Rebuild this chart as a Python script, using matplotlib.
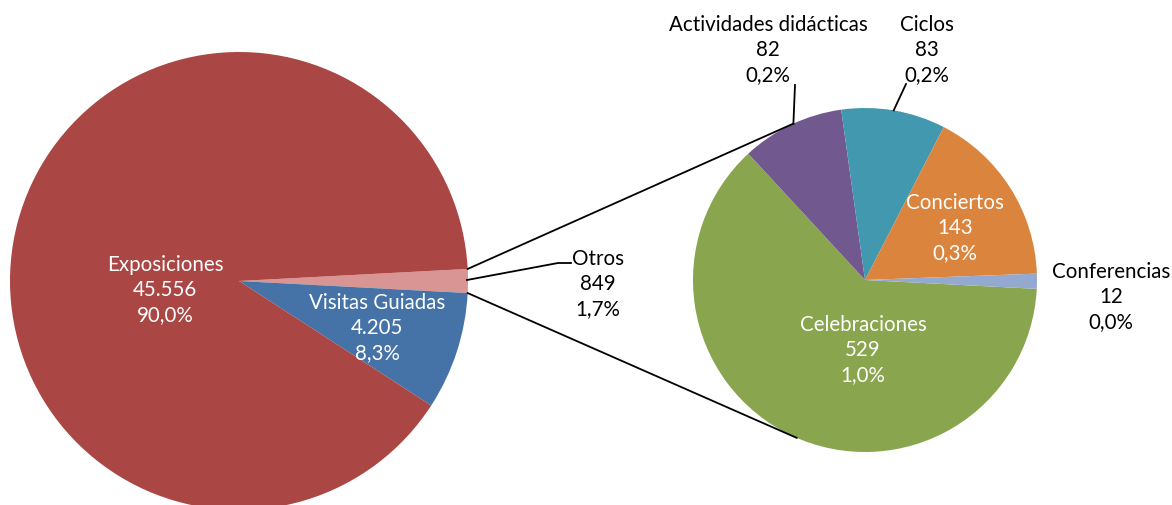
import numpy as np
import matplotlib
matplotlib.use("Agg")
import matplotlib.pyplot as plt

plt.rcParams['font.family'] = ['Lato', 'DejaVu Sans']

# main pie
main_labels = ["Otros", "Visitas Guiadas", "Exposiciones"]
main_values = [849, 4205, 45556]
main_colors = ["#D99594", "#4572A7", "#AA4643"]

# second pie (breakdown of "Otros")
sub_labels = ["Celebraciones", "Actividades didácticas", "Ciclos", "Conciertos", "Conferencias"]
sub_values = [529, 82, 83, 143, 12]
sub_colors = ["#89A54E", "#71588F", "#4198AF", "#DB843D", "#93A9CF"]

total = sum(main_values)


def fmt_num(v):
    return "{:,}".format(v).replace(",", ".")


def fmt_pct(v):
    return "{:.1f}%".format(100.0 * v / total).replace(".", ",")


def lbl(name, v):
    return name + "\n" + fmt_num(v) + "\n" + fmt_pct(v)


W, H = 1172, 505
fig = plt.figure(figsize=(W / 100, H / 100), dpi=100)
ax = fig.add_axes([0, 0, 1, 1])

c1, r1 = (239, H - 281), 229
c2, r2 = (865, H - 280), 172

half = 360.0 * main_values[0] / total / 2
ax.pie(main_values, colors=main_colors, startangle=half, counterclock=False,
       center=c1, radius=r1, wedgeprops=dict(linewidth=0))
ax.pie(sub_values, colors=sub_colors, startangle=-2.96, counterclock=False,
       center=c2, radius=r2, wedgeprops=dict(linewidth=0))

ax.set_xlim(0, W)
ax.set_ylim(0, H)
ax.axis("off")

# connector lines between the pies
def pt(c, r, ang):
    a = np.radians(ang)
    return c[0] + r * np.cos(a), c[1] + r * np.sin(a)

for a1, a2 in [(half, 114.6), (-half, -113.4)]:
    p1 = pt(c1, r1, a1)
    p2 = pt(c2, r2, a2)
    ax.plot([p1[0], p2[0]], [p1[1], p2[1]], color="black", lw=1.3)

# leader lines
fs = 14.8
ax.plot([467, 558, 571], [H - 280, H - 263, H - 263], color="black", lw=1.3)
p = pt(c2, r2, 114.6)
ax.plot([p[0], 795], [p[1], H - 85], color="black", lw=1.3)
p = pt(c2, r2, 98.0 - 17.6)
ax.plot([p[0], 906], [p[1], H - 84], color="black", lw=1.3)

tk = dict(ha="center", va="center", fontsize=fs, linespacing=1.33)
ax.text(165, H - 290, lbl("Exposiciones", main_values[2]), color="white", **tk)
ax.text(377, H - 328, lbl("Visitas Guiadas", main_values[1]), color="white", **tk)
ax.text(598, H - 284, lbl("Otros", main_values[0]), color="black", **tk)
ax.text(863, H - 350, lbl("Celebraciones", sub_values[0]), color="white", **tk)
ax.text(768, H - 50, lbl("Actividades didácticas", sub_values[1]), color="black", **tk)
ax.text(927, H - 50, lbl("Ciclos", sub_values[2]), color="black", **tk)
ax.text(955, H - 228, lbl("Conciertos", sub_values[3]), color="white", **tk)
ax.text(1111, H - 297, lbl("Conferencias", sub_values[4]), color="black", **tk)

fig.savefig("out.png", dpi=100)
